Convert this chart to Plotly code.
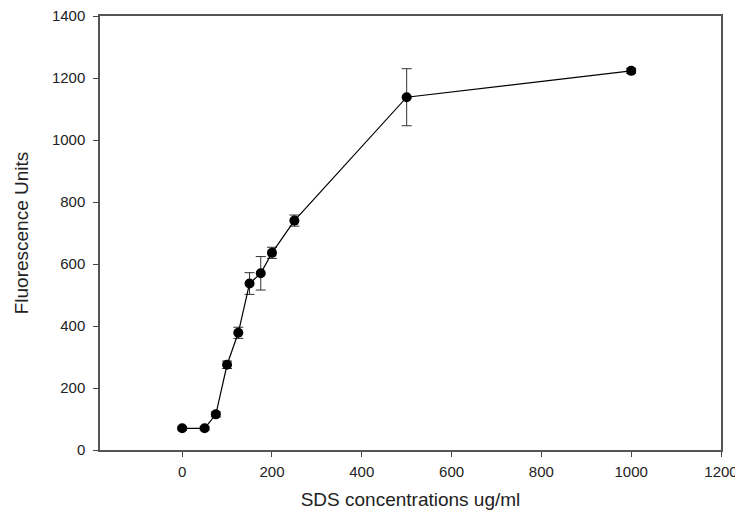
import plotly.graph_objects as go

sds_conc = [0, 50, 75, 100, 125, 150, 175, 200, 250, 500, 1000]
fluorescence = [70, 70, 115, 275, 378, 537, 570, 636, 740, 1138, 1223]
error = [5, 5, 8, 12, 18, 35, 54, 18, 18, 92, 8]

x_ticks = [0, 200, 400, 600, 800, 1000, 1200]
y_ticks = [0, 200, 400, 600, 800, 1000, 1200, 1400]

FONT = "Liberation Sans, Arial, sans-serif"

fig = go.Figure()
fig.add_trace(go.Scatter(
    x=sds_conc, y=fluorescence,
    mode="lines+markers",
    line=dict(color="black", width=1.2),
    marker=dict(color="black", size=10, symbol="circle"),
    error_y=dict(type="data", array=error, visible=True, color="#333333", thickness=1, width=5),
    showlegend=False,
    cliponaxis=False,
))

axis_common = dict(
    showgrid=False, zeroline=False, automargin=False,
    showline=True, linecolor="#555555", linewidth=1.5, mirror=True,
    ticks="outside", ticklen=5, tickcolor="#444444", tickwidth=1,
    ticklabeloverflow="allow",
    tickfont=dict(family=FONT, size=15, color="#222222"),
)

fig.update_layout(
    width=735, height=513,
    margin=dict(l=92, r=22, t=8, b=71),
    plot_bgcolor="white", paper_bgcolor="white",
    xaxis=dict(range=[-183, 1200], tickvals=x_ticks, ticklabelstandoff=2,
               title=dict(text="SDS concentrations ug/ml", standoff=14,
                          font=dict(family=FONT, size=19, color="#222222")),
               **axis_common),
    yaxis=dict(range=[0, 1400], tickvals=y_ticks, ticklabelstandoff=5,
               title=dict(text="Fluorescence Units", standoff=18,
                          font=dict(family=FONT, size=19, color="#222222")),
               **axis_common),
)

fig.write_html("out.html")
